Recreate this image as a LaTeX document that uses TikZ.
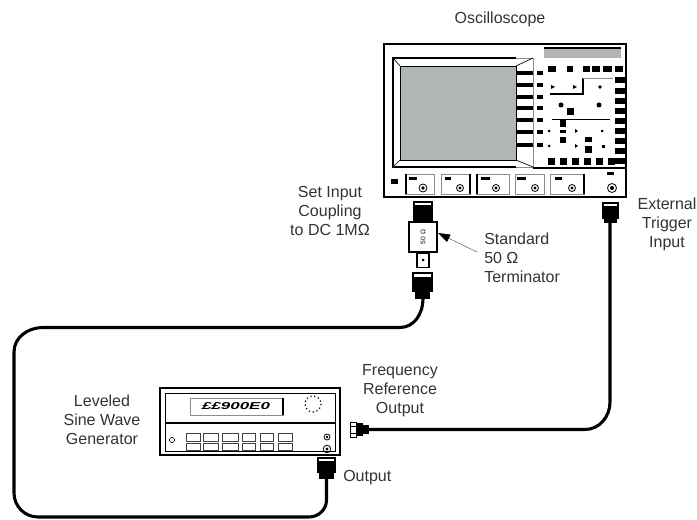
\documentclass[tikz,border=0pt]{standalone}
\usepackage{fontspec}
\setmainfont{Liberation Sans}
\usetikzlibrary{arrows.meta}
\definecolor{txt}{HTML}{333333}
\definecolor{scr}{HTML}{B2B5B5}
\newcommand{\dialknob}[3]{\draw[line width=0.6pt] (#1,#2) circle (#3); \fill (#1,#2) circle ({#3*0.45});}
\begin{document}
\begin{tikzpicture}[x=0.75pt,y=-0.75pt,
  lbl/.style={font=\fontsize{12}{14.25}\selectfont, text=txt, inner sep=0pt, align=center},
  cable/.style={line width=2.3pt, line cap=round},
  frame/.style={line width=1.5pt},
  capbox/.style={draw, line width=0.8pt, fill=white},
  thinl/.style={line width=0.5pt},
  lightl/.style={line width=0.5pt, black!45},
  btn/.style={line width=0.5pt, black!75}
]
\useasboundingbox (0,0) rectangle (697,520);

% ===== Oscilloscope =====
\node[draw, frame, minimum width=181.5pt, minimum height=114.75pt, inner sep=0pt] (scope) at (505,120.5) {};
% screen bevel
\fill[scr] (400,66) rectangle (516,160);
\draw[line width=0.6pt] (400,66) rectangle (516,160);
\draw[line width=1.6pt] (516,58) -- (393,58) -- (393,167) -- (516,167);
\draw[lightl] (516,58) -- (533,58) -- (533,167) -- (516,167);
\draw[thinl] (393,58) -- (400,66) (393,167) -- (400,160) (533,58) -- (516,66) (533,167) -- (516,160);
% buttons beside screen
\foreach \yy in {73,85,97,108,120,132,145} {
  \fill (516,\yy-2) rectangle (533,\yy+2);
  \fill (537,\yy-2) rectangle (543,\yy+2);
}
% right panel
\fill[scr] (544,48) rectangle (621,58);
\draw[line width=1pt] (544,48) -- (621,48);
\foreach \xa/\xb in {548/556,567/573,583/590,592/600,603/612,615/623}
  \fill (\xa,66) rectangle (\xb,72);
\foreach \yy in {77,88,98,108,118,128,138,148,158}
  \fill (615,\yy) rectangle (625,\yy+6);
\foreach \xa in {548,560,572,584,596,608}
  \fill (\xa,158) rectangle (\xa+7,165);
\draw[line width=0.8pt] (550,94) -- (583,94) -- (583,78);
\draw[lightl] (583,78) -- (613,78);
\draw[line width=0.6pt] (552,119) -- (610,119);
\fill (551,85) -- (555,87) -- (551,89) -- cycle;
\fill (573,85) -- (577,87) -- (573,89) -- cycle;
\fill (600,87) circle (1.8);
\fill (561,105) circle (2.5);
\fill (599,105) circle (2.5);
\fill (567,108) rectangle (574,115);
\fill (560,120) rectangle (566,127);
\fill (560,130) rectangle (566,133);
\fill (560,137) rectangle (566,143);
\fill (585,137) rectangle (592,142);
\fill (585,146) rectangle (592,153);
\fill (549,131) circle (1.5);
\fill (575,129) -- (578,131) -- (575,133) -- cycle;
\fill (602,131) circle (1.5);
\fill (549,146) circle (1.5);
\fill (575,144) -- (578,146) -- (575,148) -- cycle;
\fill (602,145) rectangle (605,148);
% lower strip
\draw[line width=0.8pt] (533,168) -- (626,168);
\fill (391,179) rectangle (398,184);
\draw[lightl] (405,174) rectangle (434,194);
\draw[line width=1.2pt] (406,174) -- (406,194);
\draw[lightl] (441,174) rectangle (470,194);
\draw[line width=1.2pt] (470,174) -- (470,194);
\draw[lightl] (476,174) rectangle (509,194);
\draw[line width=1.2pt] (477,174) -- (477,194);
\draw[lightl] (515,174) rectangle (544,194);
\draw[lightl] (550,174) rectangle (584,194);
\draw[line width=1.2pt] (584,174) -- (584,194);
\fill (409,177) rectangle (417,180);
\fill (445,177) rectangle (451,180);
\fill (481,177) rectangle (490,180);
\fill (517,177) rectangle (526,180);
\fill (555,177) rectangle (562,180);
\fill (607,172) rectangle (614,175);
\dialknob{423}{188}{4}
\dialknob{460}{188}{3.5}
\dialknob{496}{188}{3.5}
\dialknob{535}{188}{3.5}
\dialknob{572}{188}{3.5}
\dialknob{612}{188}{4.5}

% ===== scope input connector + terminator =====
\draw[capbox] (414,202) rectangle (432,206);
\fill (413,207) rectangle (433,221);
\node[draw, line width=1.2pt, fill=white, minimum width=21pt, minimum height=22.5pt, inner sep=0pt] (term) at (423,237) {};
\node[rotate=90, font=\fontsize{5}{5}\selectfont, inner sep=0pt] (termtxt) at (term.center) {50 Ω};
\node[draw, line width=1pt, minimum width=9pt, minimum height=10.5pt, inner sep=0pt, anchor=north] (termtip) at (term.south) {};
\fill (423,260) circle (1.5);
% cable plug under terminator
\draw[capbox] (413,273) rectangle (432,278);
\fill (412,279) rectangle (433,292);
\fill (415,292) rectangle (430,299);
\coordinate (termplug) at (423,299);

% ===== trigger connector =====
\draw[capbox] (603,203) rectangle (618,207);
\fill (602,208) rectangle (619,219);
\fill (604,219) rectangle (617,223);
\coordinate (trig) at (610,223);

% ===== Sine wave generator =====
\node[draw, frame, minimum width=135pt, minimum height=50.25pt, inner sep=0pt] (gen) at (250,421.5) {};
\draw[line width=0.6pt] (165,393) rectangle (335,451);
\draw[line width=0.8pt] (165,423) -- (335,423);
\draw[lightl] (190,398) rectangle (283,415);
\draw[line width=1.2pt] (283,398) -- (283,415);
\node[inner sep=0pt] (disp) at (236,406.5) {\scalebox{1.7}[1]{\fontsize{7.5}{7.5}\selectfont\bfseries\itshape ££900E0}};
\draw[dotted, line width=0.9pt] (313,404) circle (8);
\draw[line width=0.5pt] (172,440) circle (2.5);
\foreach \xa/\xb in {186/200,203/218,222/238,242/255,260/273,278/292} {
  \draw[btn] (\xa,433) rectangle (\xb,441);
  \draw[btn] (\xa,443) rectangle (\xb,450);
}
\dialknob{327}{437}{3}
\dialknob{327}{449}{3.8}

% frequency reference connector
\draw[line width=0.7pt, fill=white] (350,422) rectangle (356,437);
\draw[line width=0.5pt] (350,426) -- (356,426) (350,433) -- (356,433);
\fill (356,423) rectangle (363,436);
\fill (363,425) rectangle (369,434);
\coordinate (fref) at (368,429.5);

% output connector
\draw[capbox] (318,458) rectangle (335,462);
\fill (317,463) rectangle (336,473);
\fill (319,473) rectangle (334,479);
\coordinate (genout) at (326.5,478);

% ===== cables =====
\draw[cable] (fref) -- (585,429.5) to[out=0,in=-90] (610,402) -- (trig);
\draw[cable] (genout) -- (326.5,500) to[out=-90,in=0] (309,517) -- (38,517)
  to[out=180,in=-90] (14,493) -- (14,352) to[out=90,in=180] (43,327.5) -- (400,327.5)
  to[out=0,in=-90] (termplug);

% ===== labels =====
\node[lbl, anchor=north] (oscl) at (500,11.5) {Oscilloscope};
\node[lbl, anchor=north] (setl) at (330,186.5) {Set Input\\Coupling\\to DC 1MΩ};
\node[lbl, anchor=north west, align=left] (stdl) at (484,233) {Standard\\50 Ω\\Terminator};
\node[lbl, anchor=north] (extl) at (667,198) {External\\Trigger\\Input};
\node[lbl, anchor=north] (frql) at (400,364) {Frequency\\Reference\\Output};
\node[lbl, anchor=north] (genl) at (102,395) {Leveled\\Sine Wave\\Generator};
\node[lbl, anchor=base west] (outl) at (343,482) {Output};

\coordinate (arrtail) at (477,252);
\coordinate (arrtip) at (438,233);
\draw[line width=0.4pt, black!60, -{Triangle[length=9pt,width=6pt,color=black]}] (arrtail) -- (arrtip);
\end{tikzpicture}
\end{document}
